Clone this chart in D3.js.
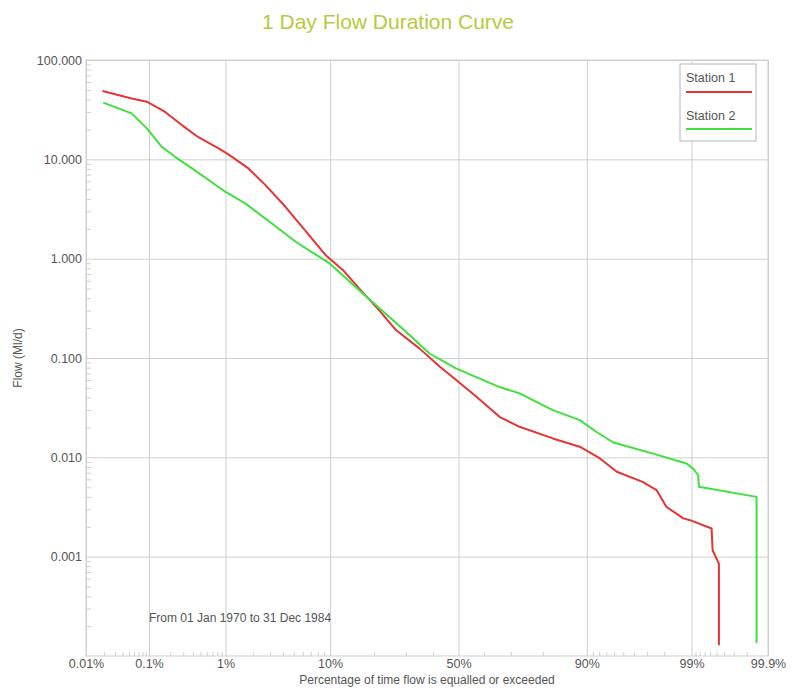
<!DOCTYPE html>
<html>
<head>
<meta charset="utf-8">
<script src="https://cdn.jsdelivr.net/npm/d3@7"></script>
<style>
  html, body { margin: 0; padding: 0; background: #fff; overflow: hidden; }
  svg { display: block; font-family: "Liberation Sans", Arial, sans-serif; }
</style>
</head>
<body>
<div id="chart"></div>
<script>
// percent of time flow equalled or exceeded, flow in Ml/d
const station1Pct  = [0.019, 0.055, 0.093, 0.17, 0.29, 0.47, 0.83, 1.08, 1.8, 2.7, 4.2, 5.9, 9.2, 12.4, 16.1, 21.5, 26.7, 34.8, 42.5, 49.1, 57, 65.9, 72.9, 82.7, 88.7, 92.1, 94.3, 96.7, 97.6, 98.1, 98.76, 98.96, 99.425, 99.441, 99.534, 99.534];
const station1Flow = [48.7, 41, 38, 30, 22, 16.7, 12.9, 11.2, 8.1, 5.5, 3.33, 2.1, 1.09, 0.77, 0.50, 0.30, 0.19, 0.125, 0.082, 0.060, 0.041, 0.0256, 0.0203, 0.0155, 0.0128, 0.00975, 0.00715, 0.00567, 0.00468, 0.00318, 0.00243, 0.00233, 0.00192, 0.00116, 0.00085, 0.000128];

const station2Pct  = [0.0195, 0.055, 0.093, 0.152, 0.233, 0.39, 0.63, 0.99, 1.66, 3.1, 5.2, 9.85, 16.1, 21.5, 30, 38.6, 49, 65.9, 72.9, 79, 82.7, 88.7, 91.6, 93.9, 97.4, 98.86, 99.044, 99.165, 99.18, 99.854, 99.854];
const station2Flow = [37.2, 29, 20.5, 13.4, 10.6, 8.1, 6.2, 4.72, 3.6, 2.27, 1.48, 0.90, 0.48, 0.316, 0.184, 0.111, 0.0785, 0.051, 0.044, 0.0349, 0.0299, 0.0237, 0.018, 0.0141, 0.0109, 0.00867, 0.0077, 0.0066, 0.00505, 0.0040, 0.000135];

const seriesNames = ["Station 1", "Station 2"];
const seriesColors = ["#e53434", "#3ee03e"];

const xMajor = [0.01, 0.1, 1, 10, 50, 90, 99, 99.9];
const xMinor = [0.02, 0.03, 0.04, 0.05, 0.06, 0.07, 0.08, 0.09,
                0.2, 0.3, 0.4, 0.5, 0.6, 0.7, 0.8, 0.9,
                2, 3, 4, 5, 6, 7, 8, 9, 20, 30, 40, 60, 70, 80,
                91, 92, 93, 94, 95, 96, 97, 98,
                99.1, 99.2, 99.3, 99.4, 99.5, 99.6, 99.7, 99.8];
const yMajor = [0.0001, 0.001, 0.01, 0.1, 1, 10, 100];

const title = "1 Day Flow Duration Curve";
const xTitle = "Percentage of time flow is equalled or exceeded";
const yTitle = "Flow (Ml/d)";
const note = "From 01 Jan 1970 to 31 Dec 1984";

// inverse normal cdf (Acklam)
function probit(p) {
  const a = [-3.969683028665376e+01, 2.209460984245205e+02, -2.759285104469687e+02, 1.383577518672690e+02, -3.066479806614716e+01, 2.506628277459239e+00];
  const b = [-5.447609879822406e+01, 1.615858368580409e+02, -1.556989798598866e+02, 6.680131188771972e+01, -1.328068155288572e+01];
  const c = [-7.784894002430293e-03, -3.223964580411365e-01, -2.400758277161838e+00, -2.549732539343734e+00, 4.374664141464968e+00, 2.938163982698783e+00];
  const d = [7.784695709041462e-03, 3.224671290700398e-01, 2.445134137142996e+00, 3.754408661907416e+00];
  const pl = 0.02425;
  let q, r;
  if (p < pl) {
    q = Math.sqrt(-2 * Math.log(p));
    return (((((c[0]*q+c[1])*q+c[2])*q+c[3])*q+c[4])*q+c[5]) / ((((d[0]*q+d[1])*q+d[2])*q+d[3])*q+1);
  }
  if (p > 1 - pl) {
    q = Math.sqrt(-2 * Math.log(1 - p));
    return -(((((c[0]*q+c[1])*q+c[2])*q+c[3])*q+c[4])*q+c[5]) / ((((d[0]*q+d[1])*q+d[2])*q+d[3])*q+1);
  }
  q = p - 0.5; r = q * q;
  return (((((a[0]*r+a[1])*r+a[2])*r+a[3])*r+a[4])*r+a[5])*q / (((((b[0]*r+b[1])*r+b[2])*r+b[3])*r+b[4])*r+1);
}

const width = 792, height = 693;
const margin = { top: 60, right: 24, bottom: 37, left: 86 };
const innerWidth = width - margin.left - margin.right;
const innerHeight = height - margin.top - margin.bottom;

const svg = d3.select("#chart").append("svg")
  .attr("width", width).attr("height", height);

const g = svg.append("g").attr("transform", `translate(${margin.left},${margin.top})`);

const z = d3.scaleLinear()
  .domain([probit(0.0001), probit(0.999)])
  .range([0, innerWidth]);
const x = pct => z(probit(pct / 100));

const y = d3.scaleLog().domain([0.0001, 100]).range([innerHeight, 0]);

const gridColor = "#cfcfcf";
const textColor = "#555";

// horizontal gridlines + y labels
const yAxis = g.append("g")
  .call(d3.axisLeft(y).tickValues(yMajor.slice(1)).tickSize(-innerWidth).tickPadding(4)
    .tickFormat(d3.format(".3f")));
yAxis.select(".domain").remove();
yAxis.selectAll("line").attr("stroke", gridColor);
yAxis.selectAll("text").attr("fill", textColor).style("font-size", "12.5px");

// y minor ticks (inside)
const yMinor = [];
yMajor.slice(0, -1).forEach(v => { for (let k = 2; k <= 9; k++) yMinor.push(v * k); });
const yMin = g.append("g").call(d3.axisLeft(y).tickValues(yMinor).tickSize(-5).tickFormat(""));
yMin.select(".domain").remove();
yMin.selectAll("text").remove();
yMin.selectAll("line").attr("stroke", gridColor);

// vertical gridlines + x labels
const xAxis = g.append("g").attr("transform", `translate(0,${innerHeight})`)
  .call(d3.axisBottom(z).tickValues(xMajor.map(p => probit(p / 100)))
    .tickSize(-innerHeight)
    .tickFormat((d, i) => xMajor[i] + "%"));
xAxis.select(".domain").remove();
xAxis.selectAll("line").attr("stroke", gridColor);
xAxis.selectAll("text").attr("y", 12).attr("dy", null)
  .attr("fill", textColor).style("font-size", "12.5px");

const xMin = g.append("g").attr("transform", `translate(0,${innerHeight})`)
  .call(d3.axisBottom(z).tickValues(xMinor.map(p => probit(p / 100))).tickSize(-4).tickFormat(""));
xMin.select(".domain").remove();
xMin.selectAll("text").remove();
xMin.selectAll("line").attr("stroke", gridColor);

// frame
g.append("rect").attr("width", innerWidth).attr("height", innerHeight)
  .attr("fill", "none").attr("stroke", gridColor);

// curves
const series = [
  d3.zip(station1Pct, station1Flow),
  d3.zip(station2Pct, station2Flow)
];
const line = d3.line().x(d => x(d[0])).y(d => y(d[1]));

g.selectAll(".curve").data(series).enter().append("path")
  .attr("class", "curve")
  .attr("d", line)
  .attr("fill", "none")
  .attr("stroke", (d, i) => seriesColors[i])
  .attr("stroke-width", 2)
  .attr("stroke-linejoin", "round");

// note
g.append("text").attr("x", x(0.1)).attr("y", y(0.00022))
  .attr("fill", textColor).style("font-size", "12px").text(note);

// legend
const legend = svg.append("g").attr("transform", "translate(680,64)");
legend.append("rect").attr("width", 76).attr("height", 77)
  .attr("fill", "#fff").attr("stroke", "#b5b5b5");
seriesNames.forEach((name, i) => {
  legend.append("text").attr("x", 6).attr("y", 18 + i * 38)
    .attr("fill", textColor).style("font-size", "12.5px").text(name);
  legend.append("line").attr("x1", 6).attr("x2", 72)
    .attr("y1", 28 + i * 37).attr("y2", 28 + i * 37)
    .attr("stroke", seriesColors[i]).attr("stroke-width", 2);
});

// titles
svg.append("text").attr("x", 388).attr("y", 29).attr("text-anchor", "middle")
  .attr("fill", "#b8ca3c").style("font-size", "21px").text(title);

svg.append("text").attr("x", 427).attr("y", 684).attr("text-anchor", "middle")
  .attr("fill", textColor).style("font-size", "12px").text(xTitle);

svg.append("text").attr("transform", `translate(22,${margin.top + innerHeight / 2}) rotate(-90)`)
  .attr("text-anchor", "middle").attr("fill", textColor).style("font-size", "12px").text(yTitle);
</script>
</body>
</html>
